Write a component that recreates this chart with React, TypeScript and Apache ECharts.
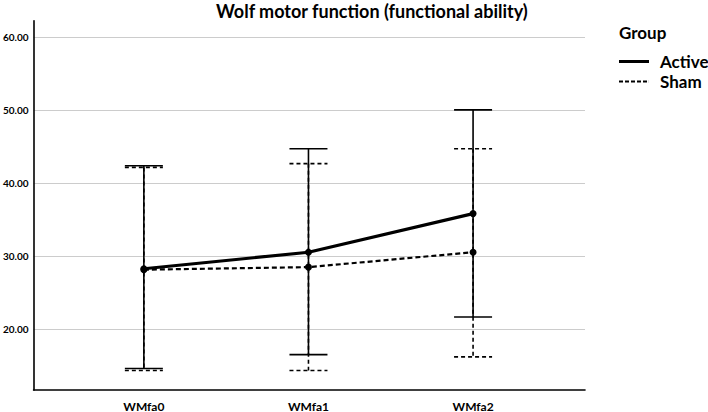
import React, { useEffect, useRef } from "react";
import * as echarts from "echarts";

const categories = ["WMfa0", "WMfa1", "WMfa2"];
const activeMean = [28.28, 30.54, 35.82];
const shamMean = [28.15, 28.5, 30.54];
const activeLow = [14.64, 16.54, 21.68];
const activeHigh = [42.37, 44.69, 50.0];
const shamLow = [14.36, 14.36, 16.23];
const shamHigh = [42.14, 42.65, 44.69];
const yTicks = [20, 30, 40, 50, 60];
const xTicks = [0, 1, 2];

const FONT = "Lato";

function errorBarRenderer(dashed: boolean) {
  return (params: any, api: any) => {
    const x = api.value(0);
    const lo = api.value(1);
    const hi = api.value(2);
    const top = api.coord([x, hi]);
    const bot = api.coord([x, lo]);
    const hw = 19;
    const style: any = {
      stroke: "#000",
      lineWidth: 1.6,
      fill: null,
      lineDash: dashed ? [4, 3] : null,
    };
    return {
      type: "group",
      children: [
        { type: "line", shape: { x1: top[0], y1: top[1], x2: bot[0], y2: bot[1] }, style },
        { type: "line", shape: { x1: top[0] - hw, y1: top[1], x2: top[0] + hw, y2: top[1] }, style },
        { type: "line", shape: { x1: bot[0] - hw, y1: bot[1], x2: bot[0] + hw, y2: bot[1] }, style },
      ],
    };
  };
}

export default function App() {
  const ref = useRef<HTMLDivElement>(null);
  useEffect(() => {
    if (!ref.current) return;
    const chart = echarts.init(ref.current, null, { renderer: "svg" });
    const shamErr = xTicks.map((i) => [i, shamLow[i], shamHigh[i]]);
    const activeErr = xTicks.map((i) => [i, activeLow[i], activeHigh[i]]);
    chart.setOption({
      animation: false,
      backgroundColor: "#ffffff",
      title: [
        {
          text: "Wolf motor function (functional ability)",
          left: 216,
          top: 2,
          padding: 0,
          textStyle: { fontFamily: FONT, fontWeight: "bold", fontSize: 18, color: "#000" },
        },
        {
          text: "Group",
          left: 619,
          top: 24,
          padding: 0,
          textStyle: { fontFamily: FONT, fontWeight: "bold", fontSize: 17, color: "#000" },
        },
      ],
      legend: {
        orient: "vertical",
        left: 619,
        top: 53,
        padding: 0,
        itemWidth: 30,
        itemHeight: 3,
        itemGap: 3,
        textStyle: { fontFamily: FONT, fontWeight: "bold", fontSize: 17, color: "#000", padding: [0, 0, 0, 6] },
        data: [
          { name: "Active", icon: "path://M0,0H30V3H0Z" },
          {
            name: "Sham",
            icon: "path://M0,0.5H4V2.5H0Z M6,0.5H10V2.5H6Z M12,0.5H16V2.5H12Z M18,0.5H22V2.5H18Z M24,0.5H28V2.5H24Z M29.9,0H30V3H29.9Z",
          },
        ],
      },
      grid: { left: 31.7, right: 123, top: 20.7, bottom: 21.3, containLabel: false },
      xAxis: {
        type: "value",
        min: -0.67,
        max: 2.68,
        axisLine: { show: true, onZero: false, lineStyle: { color: "#000", width: 1.6 } },
        axisTick: { show: false },
        splitLine: { show: false },
        axisLabel: {
          customValues: xTicks,
          formatter: (v: number) => categories[Math.round(v)] ?? "",
          fontFamily: FONT,
          fontWeight: "bold",
          fontSize: 12,
          color: "#000",
          margin: 10,
        },
      },
      yAxis: {
        type: "value",
        min: 11.7,
        max: 62.2,
        axisLine: { show: true, onZero: false, lineStyle: { color: "#000", width: 1.6 } },
        axisTick: { show: false, customValues: yTicks },
        splitLine: { show: true, customValues: yTicks, lineStyle: { color: "#cccccc", width: 1 } } as any,
        axisLabel: {
          customValues: yTicks,
          formatter: (v: number) => v.toFixed(2),
          fontFamily: FONT,
          fontWeight: "bold",
          fontSize: 10,
          color: "#000",
          margin: 5,
        },
      },
      series: [
        {
          type: "custom",
          name: "ShamErr",
          renderItem: errorBarRenderer(true),
          encode: { x: 0, y: [1, 2] },
          data: shamErr,
          silent: true,
        },
        {
          type: "custom",
          name: "ActiveErr",
          renderItem: errorBarRenderer(false),
          encode: { x: 0, y: [1, 2] },
          data: activeErr,
          silent: true,
        },
        {
          type: "line",
          name: "Sham",
          data: xTicks.map((i) => [i, shamMean[i]]),
          symbol: "circle",
          symbolSize: 7,
          itemStyle: { color: "#000" },
          lineStyle: { color: "#000", width: 2.2, type: [5, 3] },
        },
        {
          type: "line",
          name: "Active",
          data: xTicks.map((i) => [i, activeMean[i]]),
          symbol: "circle",
          symbolSize: 7,
          itemStyle: { color: "#000" },
          lineStyle: { color: "#000", width: 3.2 },
        },
      ],
    });
    return () => chart.dispose();
  }, []);
  return (
    <div
      ref={ref}
      style={{ position: "fixed", left: 0, top: 0, width: 708, height: 412, background: "#fff" }}
    />
  );
}
